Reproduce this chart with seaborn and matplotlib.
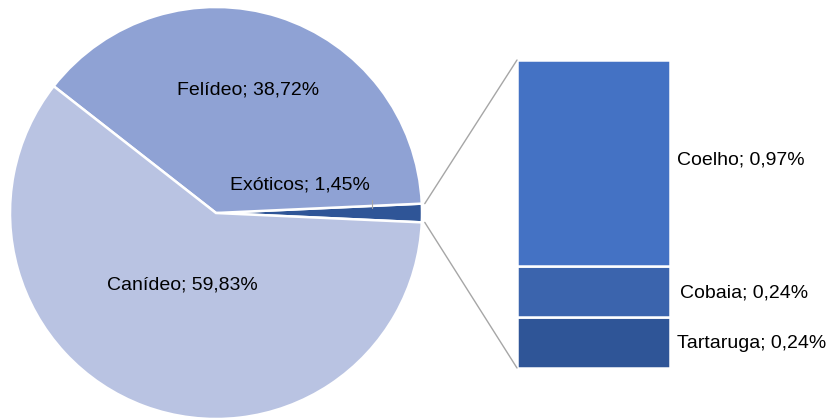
import numpy as np
import matplotlib
matplotlib.use("Agg")
import matplotlib.pyplot as plt
import seaborn as sns

# Data
pie_labels = ["Exóticos", "Felídeo", "Canídeo"]
pie_values = [1.45, 38.72, 59.83]
bar_labels = ["Tartaruga", "Cobaia", "Coelho"]
bar_values = [0.24, 0.24, 0.97]

sns.set_theme(style="white")
plt.rcParams['font.family'] = ['Liberation Sans', 'DejaVu Sans']

pie_colors = ["#2F5597", "#8FA2D4", "#B9C3E2"]
bar_colors = ["#2F5597", "#3B64AD", "#4472C4"]

fig = plt.figure(figsize=(8.34, 4.18), dpi=100)
ax = fig.add_axes([0, 0, 1, 1])

cx, cy, r = 216, 205, 206
start = -pie_values[0] / 100 * 360 / 2
ax.pie(pie_values, colors=pie_colors, startangle=start, counterclock=True,
       center=(cx, cy), radius=r, frame=True,
       wedgeprops=dict(edgecolor="white", linewidth=1.8))
ax.set_xlim(0, 834)
ax.set_ylim(0, 418)
ax.set_aspect("equal")
ax.axis("off")

# stacked bar
bx, bw = 593.5, 153
bottom0, total_h = 50, 308
scale = total_h / sum(bar_values)
bottom = bottom0
for lab, v, c in zip(bar_labels, bar_values, bar_colors):
    h = v * scale
    ax.bar(bx, h, width=bw, bottom=bottom, color=c, edgecolor="white", linewidth=1.8)
    bottom += h

# connector lines
a = np.deg2rad(abs(start))
top_pt = (cx + r * np.cos(a) + 3, cy + r * np.sin(a))
bot_pt = (cx + r * np.cos(a) + 3, cy - r * np.sin(a))
ax.plot([top_pt[0], bx - bw / 2], [top_pt[1], bottom0 + total_h], color="#A6A6A6", lw=1)
ax.plot([bot_pt[0], bx - bw / 2], [bot_pt[1], bottom0], color="#A6A6A6", lw=1)

fs = 14
tc = "black"
def fmt(v):
    return f"{v:.2f}".replace(".", ",") + "%"

ax.text(248, 328, f"{pie_labels[1]}; {fmt(pie_values[1])}", fontsize=fs, ha="center", va="center", color=tc)
ax.text(182, 133, f"{pie_labels[2]}; {fmt(pie_values[2])}", fontsize=fs, ha="center", va="center", color=tc)
ax.text(300, 233, f"{pie_labels[0]}; {fmt(pie_values[0])}", fontsize=fs, ha="center", va="center", color=tc)
ax.plot([372, 372], [218, 210], color="#A6A6A6", lw=0.8)

label_pos = {"Coelho": (677, 258), "Cobaia": (680, 125), "Tartaruga": (677, 74)}
for lab, v in zip(bar_labels, bar_values):
    x, y = label_pos[lab]
    ax.text(x, y, f"{lab}; {fmt(v)}", fontsize=fs, ha="left", va="center", color=tc)

fig.savefig("out.png", dpi=100)
